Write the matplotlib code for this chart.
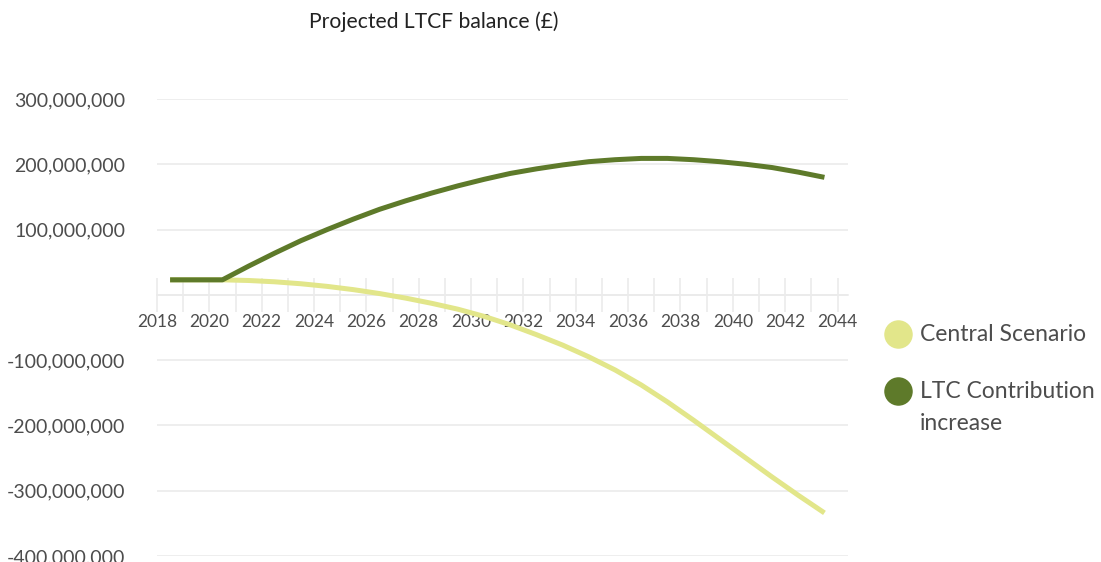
import matplotlib.pyplot as plt
from matplotlib.lines import Line2D
from matplotlib.ticker import FuncFormatter, MultipleLocator

# financial years, plotted at mid-year
years = [2018.5 + i for i in range(26)]

# balances in £m
central = [23, 23, 23, 22, 20, 17, 13, 8, 2, -5, -13, -22, -33,
           -46, -61, -77, -95, -115, -138, -164, -192, -221, -250,
           -279, -307, -334]
ltc_increase = [23, 23, 23, 44, 64, 83, 100, 116, 131, 144, 156, 167,
                177, 186, 193, 199, 204, 207, 209, 209, 207, 204, 200,
                195, 188, 180]

labels = ["Central Scenario", "LTC Contribution\nincrease"]
colors = ["#e2e68a", "#5e7a2a"]

plt.rcParams["font.family"] = ["Lato", "DejaVu Sans"]
text_col = "#4d4d4d"
grid_col = "#ebebeb"

fig = plt.figure(figsize=(11.01, 5.62), dpi=100)
ax = fig.add_axes([157 / 1101, 1 - 556 / 562, 691 / 1101, 457 / 562])

for vals, col in zip([central, ltc_increase], colors):
    ax.plot(years, [v * 1e6 for v in vals], color=col, lw=3.6,
            solid_capstyle="butt", solid_joinstyle="round", zorder=3)

ax.set_xlim(2018.1, 2044.4)
ax.set_ylim(-400e6, 300e6)

ax.yaxis.set_major_locator(MultipleLocator(100e6))
ax.yaxis.set_major_formatter(
    FuncFormatter(lambda v, p: "" if abs(v) < 1 else f"{v:,.0f}"))
ax.grid(axis="y", color=grid_col, lw=1.2)
ax.tick_params(axis="y", length=0, pad=23, labelsize=14, colors=text_col)

# x axis sits on zero
for s in ["top", "right", "left"]:
    ax.spines[s].set_visible(False)
ax.spines["bottom"].set_position(("data", 0))
ax.spines["bottom"].set_color(grid_col)
ax.spines["bottom"].set_linewidth(1.2)
ax.spines["bottom"].set_bounds(2018, 2044.4)
ax.set_xticks(range(2018, 2045))
ax.set_xticklabels([str(y) if y % 2 == 0 else "" for y in range(2018, 2045)])
ax.tick_params(axis="x", direction="inout", length=24, width=1.2,
               color=grid_col, pad=2, labelsize=12.5, labelcolor=text_col)

fig.text(434 / 1101, 1 - 22 / 562, "Projected LTCF balance (£)",
         ha="center", va="center", fontsize=15.2, color="#222222")

# legend on the right, circle aligned to first text line
leg_y = [1 - 334 / 562, 1 - 391 / 562]
for lab, col, y in zip(labels, colors, leg_y):
    fig.add_artist(Line2D([898 / 1101], [y], marker="o", ls="", color=col,
                          markersize=19.5, transform=fig.transFigure))
    fig.text(920 / 1101, y + 0.018, lab, ha="left", va="top",
             fontsize=16.5, color=text_col, linespacing=1.68)

fig.savefig("out.png", dpi=100)
